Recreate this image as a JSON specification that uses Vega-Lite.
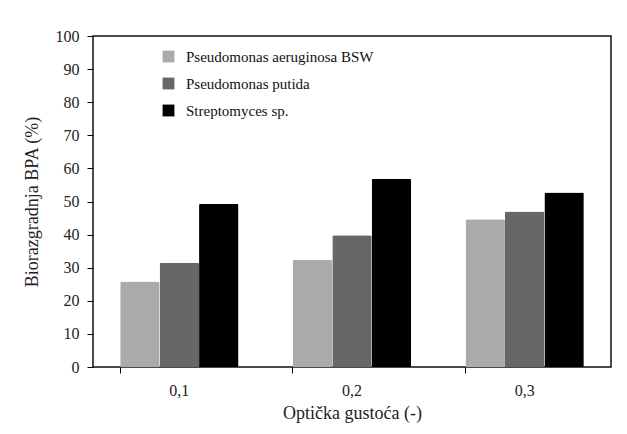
{
  "$schema": "https://vega.github.io/schema/vega-lite/v6.json",
  "width": 518,
  "height": 331,
  "autosize": "none",
  "padding": {"left": 93, "top": 36, "right": 16, "bottom": 67},
  "background": "white",
  "data": {
    "values": [
      {"od": "0,1", "series": "Pseudomonas aeruginosa BSW", "value": 25.8},
      {"od": "0,1", "series": "Pseudomonas putida", "value": 31.5},
      {"od": "0,1", "series": "Streptomyces sp.", "value": 49.3},
      {"od": "0,2", "series": "Pseudomonas aeruginosa BSW", "value": 32.3},
      {"od": "0,2", "series": "Pseudomonas putida", "value": 39.8},
      {"od": "0,2", "series": "Streptomyces sp.", "value": 56.9},
      {"od": "0,3", "series": "Pseudomonas aeruginosa BSW", "value": 44.6},
      {"od": "0,3", "series": "Pseudomonas putida", "value": 47.0},
      {"od": "0,3", "series": "Streptomyces sp.", "value": 52.7}
    ]
  },
  "mark": {"type": "bar", "cornerRadiusTopLeft": 1.5, "cornerRadiusTopRight": 1.5},
  "encoding": {
    "x": {
      "field": "od",
      "type": "nominal",
      "scale": {"paddingInner": 0.315, "paddingOuter": 0.1575},
      "axis": {
        "title": "Optička gustoća (-)",
        "labelAngle": 0,
        "bandPosition": 0,
        "domain": false,
        "ticks": true,
        "tickSize": 6,
        "tickColor": "#000",
        "labelPadding": 9,
        "labelFontSize": 16,
        "titleFontSize": 18,
        "titlePadding": 6
      }
    },
    "xOffset": {
      "field": "series",
      "type": "nominal",
      "sort": ["Pseudomonas aeruginosa BSW", "Pseudomonas putida", "Streptomyces sp."],
      "scale": {"paddingInner": 0, "paddingOuter": 0}
    },
    "y": {
      "field": "value",
      "type": "quantitative",
      "scale": {"domain": [0, 100], "nice": false},
      "axis": {
        "title": "Biorazgradnja BPA (%)",
        "values": [0, 10, 20, 30, 40, 50, 60, 70, 80, 90, 100],
        "grid": false,
        "domain": false,
        "tickSize": 6,
        "tickColor": "#000",
        "labelPadding": 8,
        "labelFontSize": 16,
        "titleFontSize": 18,
        "titlePadding": 14
      }
    },
    "color": {
      "field": "series",
      "type": "nominal",
      "sort": ["Pseudomonas aeruginosa BSW", "Pseudomonas putida", "Streptomyces sp."],
      "scale": {
        "domain": ["Pseudomonas aeruginosa BSW", "Pseudomonas putida", "Streptomyces sp."],
        "range": ["#aaaaaa", "#676767", "#000000"]
      },
      "legend": {
        "title": null,
        "orient": "none",
        "legendX": 68,
        "legendY": 13,
        "symbolType": "square",
        "symbolSize": 140,
        "symbolStrokeWidth": 0,
        "labelFontSize": 15,
        "labelOffset": 10,
        "labelLimit": 400,
        "rowPadding": 11
      }
    }
  },
  "config": {
    "font": "Liberation Serif",
    "view": {"stroke": "#111", "strokeWidth": 1.5},
    "axis": {
      "labelFont": "Liberation Serif",
      "titleFont": "Liberation Serif",
      "labelColor": "#222",
      "titleColor": "#222",
      "titleFontWeight": "normal"
    },
    "legend": {"labelFont": "Liberation Serif", "labelColor": "#111"}
  }
}
